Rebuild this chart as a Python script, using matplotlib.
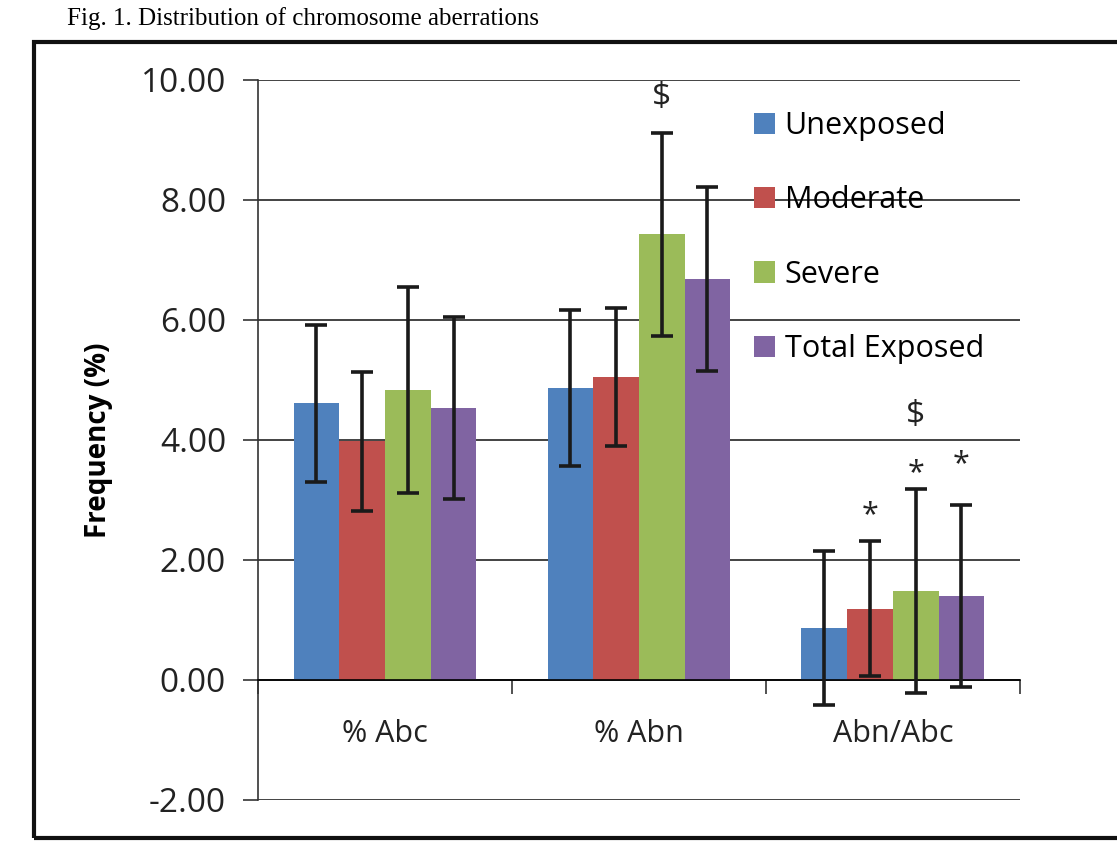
import numpy as np
import matplotlib
matplotlib.use("Agg")
import matplotlib.pyplot as plt
from matplotlib.patches import Rectangle
from matplotlib.ticker import FormatStrFormatter

plt.rcParams['font.family'] = ['Open Sans', 'DejaVu Sans']

categories = ['% Abc', '% Abn', 'Abn/Abc']
groups = ['Unexposed', 'Moderate', 'Severe', 'Total Exposed']
colors = ['#4F81BD', '#C0504D', '#9BBB59', '#8064A2']

# means per group, one value per category
unexposed = [4.61, 4.87, 0.87]
moderate = [3.98, 5.05, 1.19]
severe = [4.83, 7.43, 1.48]
total_exposed = [4.53, 6.68, 1.40]

# error bars (SD)
unexposed_sd = [1.31, 1.30, 1.28]
moderate_sd = [1.16, 1.15, 1.13]
severe_sd = [1.72, 1.69, 1.70]
total_exposed_sd = [1.52, 1.53, 1.52]

# significance marks: (category index, group index, symbol, y)
marks = [(1, 2, '$', 9.7), (2, 2, '$', 4.4),
         (2, 1, '*', 2.75), (2, 2, '*', 3.45), (2, 3, '*', 3.60)]

values = [unexposed, moderate, severe, total_exposed]
errors = [unexposed_sd, moderate_sd, severe_sd, total_exposed_sd]

fig = plt.figure(figsize=(11.17, 8.42), dpi=100)
ax = fig.add_axes([0.231, 0.05, 0.682, 0.855])

x = np.arange(len(categories))
w = 0.18
for i, (vals, errs) in enumerate(zip(values, errors)):
    pos = x + (i - 1.5) * w
    ax.bar(pos, vals, w, color=colors[i], label=groups[i], zorder=2)
    ax.errorbar(pos, vals, yerr=errs, fmt='none', ecolor='#1a1a1a',
                elinewidth=2.6, capsize=8, capthick=2.6, zorder=3)

for ci, gi, sym, yv in marks:
    ax.text(x[ci] + (gi - 1.5) * w, yv, sym, ha='center', va='center',
            fontsize=24 if sym == '$' else 22, color='#222222', zorder=4)

ax.set_xlim(-0.5, 2.5)
ax.set_ylim(-2, 10)
ax.set_yticks(np.arange(-2, 10.01, 2))
ax.yaxis.set_major_formatter(FormatStrFormatter('%.2f'))
ax.tick_params(axis='y', labelsize=24, length=11, width=1.2, direction='out',
               colors='#333333', labelcolor='#222222', pad=12)
ax.grid(axis='y', color='#222222', linewidth=1.2, zorder=0)
ax.set_axisbelow(True)

ax.set_xticks([-0.5, 0.5, 1.5, 2.5])
ax.set_xticklabels([])
ax.set_xticks(x, minor=True)
ax.set_xticklabels(categories, minor=True)
ax.tick_params(axis='x', which='major', length=10, width=1.2, direction='out',
               colors='#333333')
ax.tick_params(axis='x', which='minor', length=0, pad=28, labelsize=22,
               labelcolor='#222222')

for s in ['top', 'right']:
    ax.spines[s].set_visible(False)
ax.spines['bottom'].set_position(('data', 0))
ax.spines['bottom'].set_linewidth(1.2)
ax.spines['left'].set_linewidth(1.2)
ax.spines['left'].set_color('#333333')

ax.set_ylabel('Frequency (%)', fontsize=20, fontweight='bold', labelpad=20)

leg = ax.legend(loc='upper left', bbox_to_anchor=(0.615, 0.995), frameon=False,
                fontsize=22, handlelength=0.7, handleheight=0.7,
                handletextpad=0.3, labelspacing=1.45)

# outer chart frame and caption from the scan
fig.patches.append(Rectangle((0.03, 0.005), 1.0, 0.945, transform=fig.transFigure,
                             fill=False, edgecolor='#111111', linewidth=3))
fig.text(0.06, 0.978, 'Fig. 1. Distribution of chromosome aberrations',
         fontsize=18, family='Liberation Serif', va='center', ha='left')

fig.savefig('out.png', dpi=100)
